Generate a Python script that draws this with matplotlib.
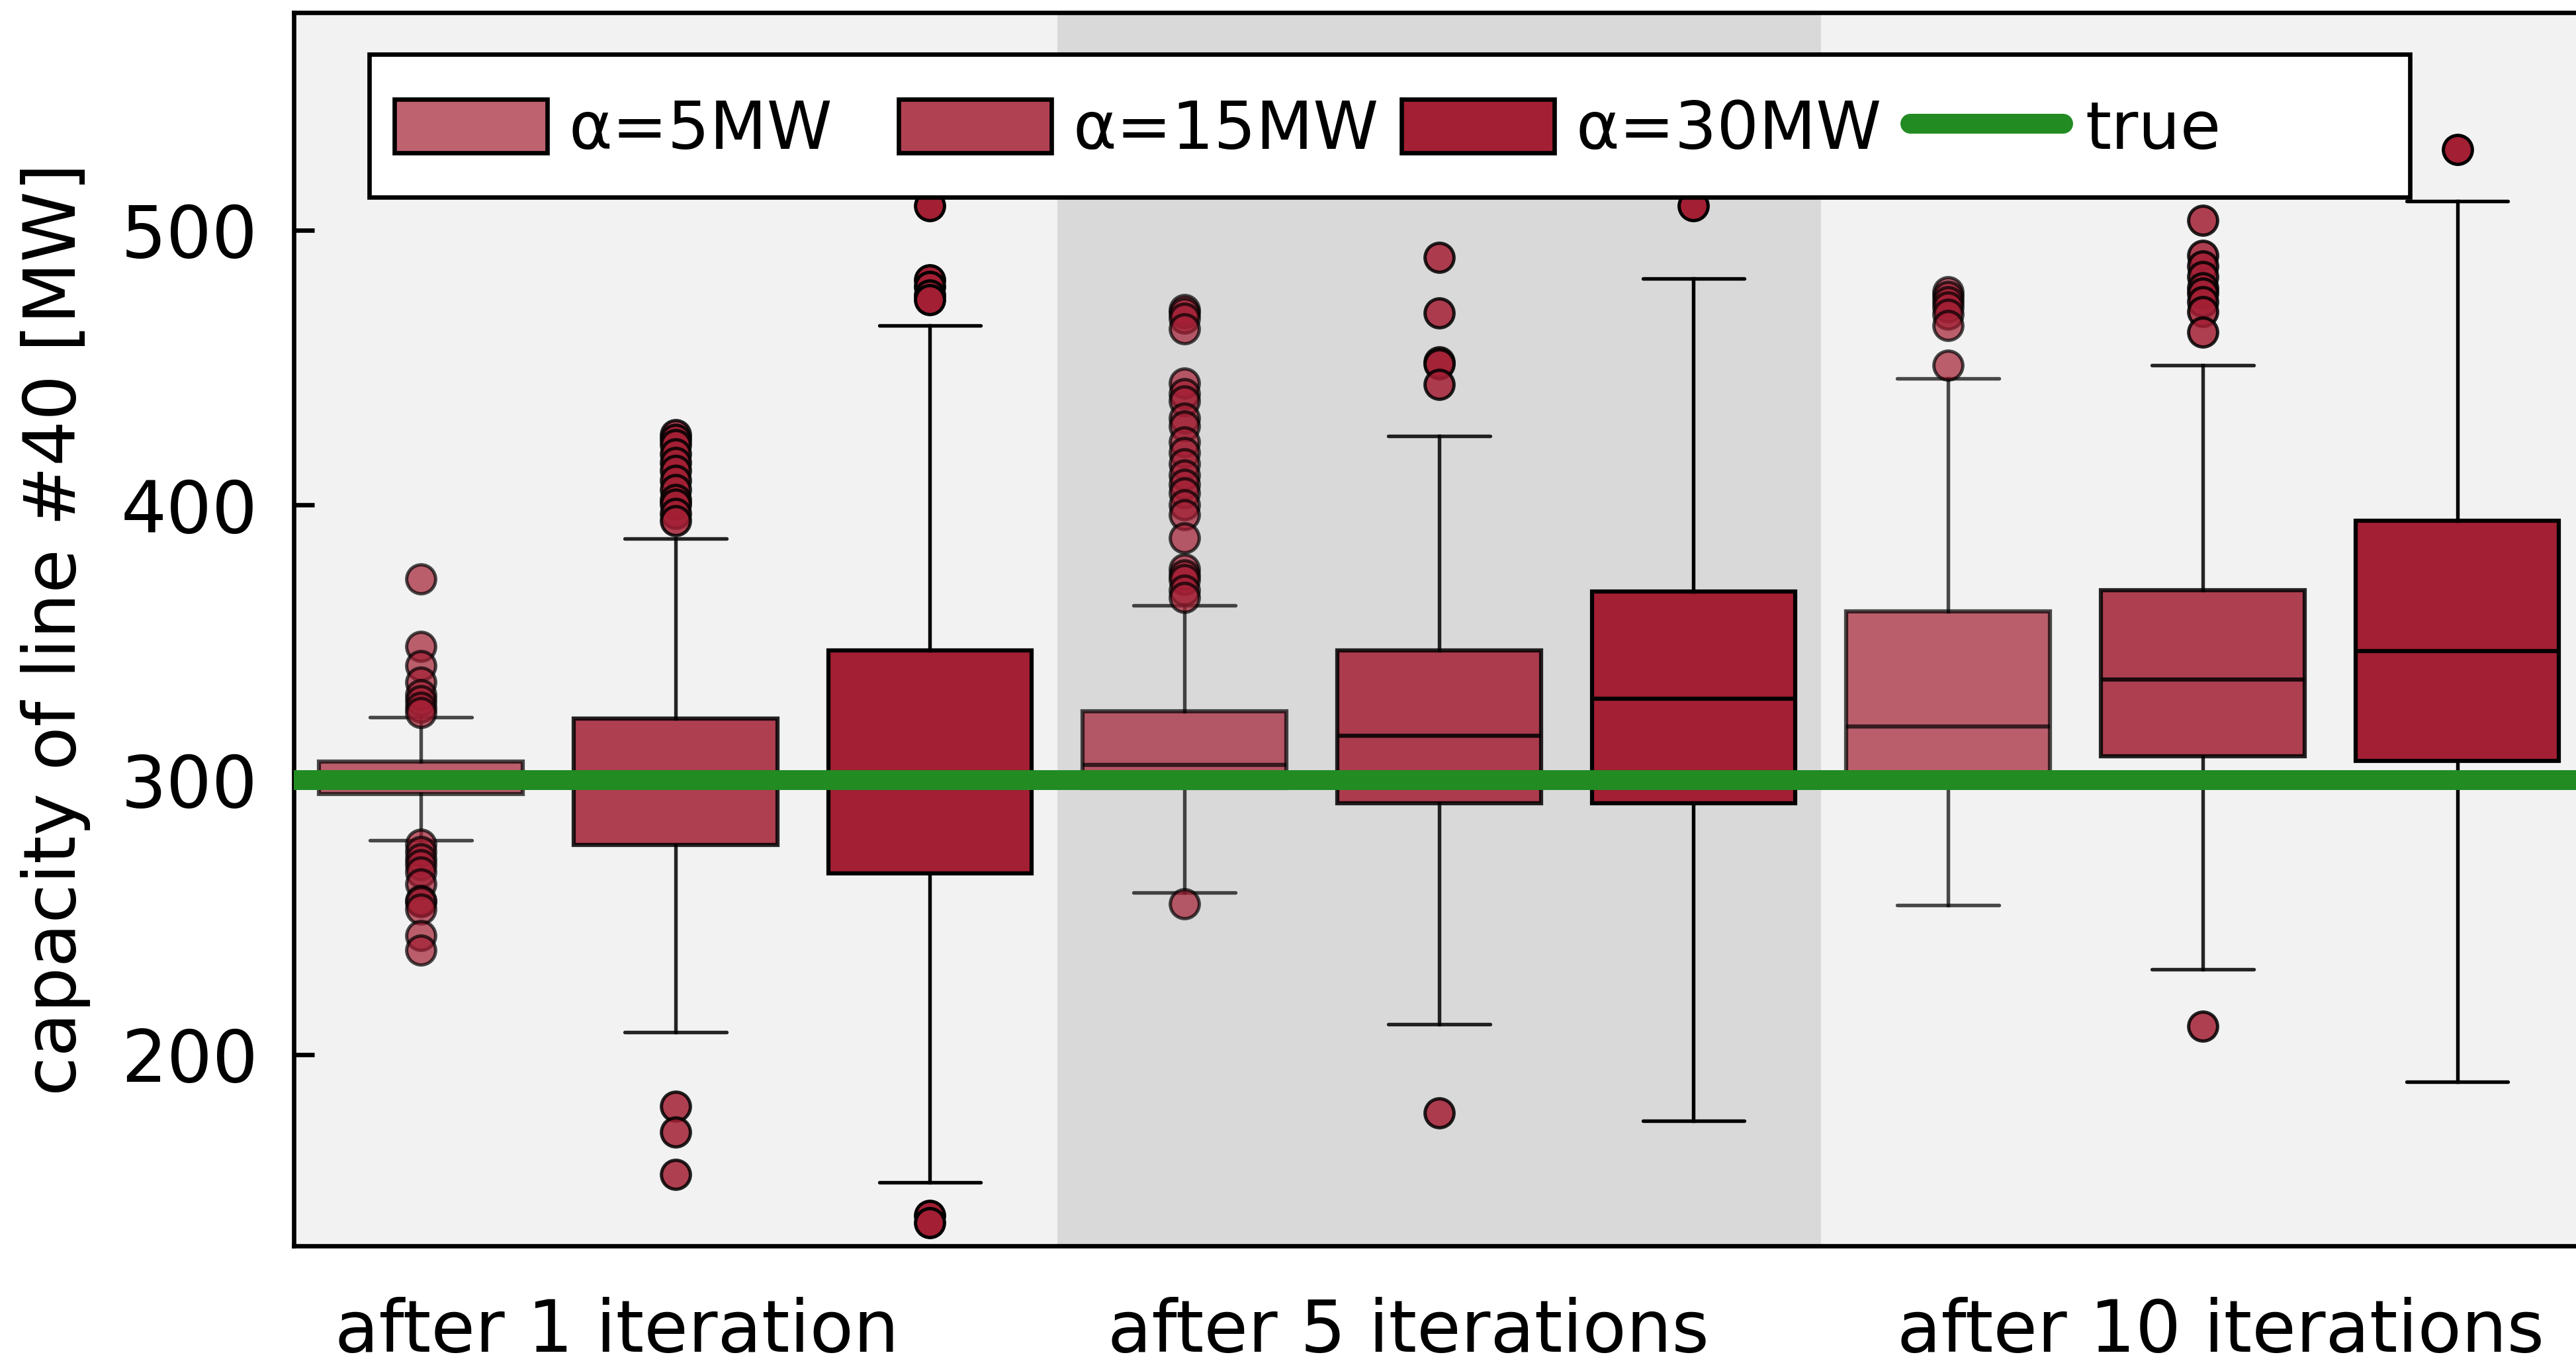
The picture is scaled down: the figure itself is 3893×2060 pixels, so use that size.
import matplotlib
matplotlib.use("Agg")
import matplotlib.pyplot as plt
from matplotlib.colors import to_rgba
from matplotlib.legend import Legend
from matplotlib.lines import Line2D
from matplotlib.patches import Patch, Rectangle

# data (capacity of line #40, MW)
groups = ["after 1 iteration", "after 5 iterations", "after 10 iterations"]
group_ticks = [1.77, 4.88, 8.07]
series = ["α=5MW", "α=15MW", "α=30MW"]
true_capacity = 300

# one entry per box, ordered group by group: 5MW, 15MW, 30MW
q1 = [294.8, 276.3, 266.0, 297.0, 291.6, 291.6, 302.0, 308.5, 306.8]
med = [300.0, 300.0, 300.0, 305.4, 316.0, 329.6, 319.4, 336.5, 346.8]
q3 = [306.6, 322.4, 347.0, 324.9, 347.0, 368.5, 361.3, 369.0, 394.2]
whislo = [278.0, 208.1, 153.5, 259.0, 211.0, 175.9, 254.3, 231.0, 190.0]
whishi = [322.7, 387.9, 465.3, 363.4, 425.2, 482.3, 446.0, 450.8, 510.6]
fliers = [
    [373.1, 348.5, 341.6, 335.5, 331.0, 328.8, 326.3, 324.5,
     276.5, 274.0, 271.2, 269.0, 266.4, 262.0, 256.0, 255.5, 253.0, 243.3, 238.0],
    [425.5, 424.0, 422.0, 418.6, 415.5, 412.6, 409.0, 405.6, 402.0, 400.2, 397.0, 394.3,
     181.2, 171.8, 156.3],
    [509.0, 482.0, 479.5, 476.5, 474.6, 141.4, 138.8],
    [471.0, 470.0, 468.0, 464.2, 444.3, 440.5, 437.8, 431.5, 428.6, 423.0, 419.0, 415.0,
     411.0, 407.5, 404.5, 400.0, 396.5, 388.0, 376.6, 374.5, 372.8, 369.0, 366.4, 255.0],
    [490.2, 469.9, 452.0, 451.3, 443.8, 178.8],
    [508.8],
    [477.5, 476.0, 474.0, 472.0, 469.3, 465.2, 450.8],
    [503.5, 490.8, 487.0, 483.1, 479.0, 477.2, 474.0, 470.3, 463.0, 210.3],
    [529.3],
]

base = "#a31f34"
alphas = [0.7, 0.85, 1.0]
green = "#228b22"

fig = plt.figure(figsize=(3893 / 300, 2060 / 300), dpi=300)
ax = fig.add_axes([0.1140, 0.0859, 0.8893, 0.9049])
ax.set_facecolor("#f2f2f2")

# darker band behind the middle group
ax.axvspan(3.5, 6.5, color="#d9d9d9", zorder=0, lw=0)

for i in range(len(q1)):
    a = alphas[i % 3]
    stats = [dict(med=med[i], q1=q1[i], q3=q3[i], whislo=whislo[i],
                  whishi=whishi[i], fliers=fliers[i])]
    ax.bxp(stats, positions=[i + 1], widths=0.8, patch_artist=True,
           manage_ticks=False,
           boxprops=dict(facecolor=base, edgecolor="black", linewidth=1.5, alpha=a),
           medianprops=dict(color="black", linewidth=1.5, alpha=a),
           whiskerprops=dict(color="black", linewidth=1.3, alpha=a),
           capprops=dict(color="black", linewidth=1.3, alpha=a,
                         solid_capstyle="round"),
           flierprops=dict(marker="o", markersize=10.5, markerfacecolor=base,
                           markeredgecolor="black", markeredgewidth=1.2, alpha=a))

ax.axhline(true_capacity, color=green, lw=7.2, zorder=3)

ax.set_xlim(0.5, 9.5)
ax.set_ylim(130.4, 579.2)
ax.set_xticks(group_ticks)
ax.set_xticklabels(groups)
ax.set_yticks([200, 300, 400, 500])
ax.tick_params(axis="x", length=0, labelsize=26, pad=18.5)
ax.tick_params(axis="y", direction="in", length=7.4, width=1.6, labelsize=26, pad=13)
ax.set_ylabel("capacity of line #40 [MW]", fontsize=26, labelpad=11)
for s in ax.spines.values():
    s.set_linewidth(1.6)
    s.set_color("black")

# legend: white frame with four evenly spaced entries
frame = Rectangle((0.0331, 0.8503), 0.9238 - 0.0331, 0.9662 - 0.8503,
                  transform=ax.transAxes, facecolor="white", edgecolor="black",
                  linewidth=1.6, zorder=5, clip_on=False)
ax.add_patch(frame)

handles = [Patch(facecolor=to_rgba(base, a), edgecolor="black", linewidth=1.6)
           for a in alphas]
handles.append(Line2D([], [], color=green, lw=7.2, solid_capstyle="round"))
labels = series + ["true"]
entry_x = [0.0439, 0.2640, 0.4835, 0.7058]
yc = (0.9662 + 0.8503) / 2 - 0.004
for h, lab, x in zip(handles, labels, entry_x):
    leg = Legend(ax, [h], [lab], loc="center left", bbox_to_anchor=(x, yc),
                 frameon=False, fontsize=24, handlelength=2.31, handleheight=0.867,
                 handletextpad=0.33, borderpad=0, borderaxespad=0)
    leg.set_zorder(6)
    ax.add_artist(leg)

fig.savefig("out.png", dpi=300)
